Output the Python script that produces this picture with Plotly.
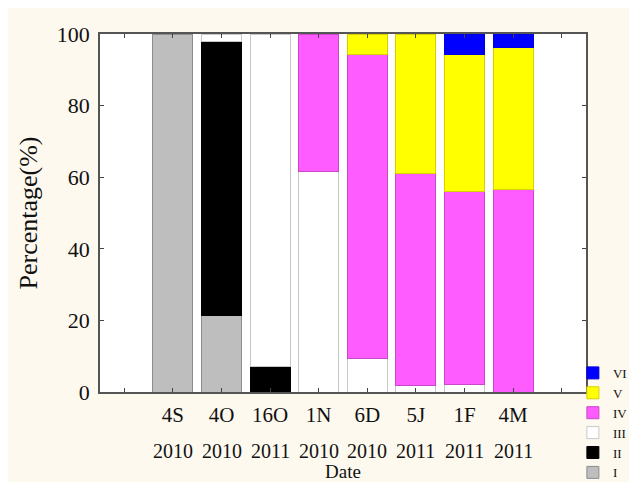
import plotly.graph_objects as go

# sampling dates (day + month initial) and year row
dates = ["4S", "4O", "16O", "1N", "6D", "5J", "1F", "4M"]
years = ["2010", "2010", "2011", "2010", "2010", "2011", "2011", "2011"]

# percentage of each stage per date (bottom to top)
stage_names = ["I", "II", "III", "IV", "V", "VI"]
stage_I = [100, 21.5, 0, 0, 0, 0, 0, 0]
stage_II = [0, 76.5, 7.0, 0, 0, 0, 0, 0]
stage_III = [0, 2.0, 93.0, 61.5, 9.4, 1.8, 2.0, 0]
stage_IV = [0, 0, 0, 38.5, 84.9, 59.2, 53.9, 56.7]
stage_V = [0, 0, 0, 0, 5.7, 39.0, 38.4, 39.4]
stage_VI = [0, 0, 0, 0, 0, 0, 5.7, 3.9]

stage_values = [stage_I, stage_II, stage_III, stage_IV, stage_V, stage_VI]
fill_colors = ["#BEBEBE", "#000000", "#FFFFFF", "#FF5CFF", "#FFFF00", "#0000FF"]
edge_colors = ["#8C8C8C", "#000000", "#C8C8C8", "#C848C8", "#D8D000", "#0000E0"]

FONT = "Liberation Serif, Times New Roman, serif"
BG = "#FDF9EF"

# one empty slot on each side of the eight dates
x_pos = list(range(1, len(dates) + 1))

fig = go.Figure()
for name, vals, fc, ec in zip(stage_names, stage_values, fill_colors, edge_colors):
    fig.add_trace(go.Bar(
        x=x_pos,
        y=[v if v > 0 else None for v in vals],
        name=name,
        marker=dict(color=fc, line=dict(color=ec, width=1)),
        width=0.82,
    ))

# year row under the date labels
for xp, yr in zip(x_pos, years):
    fig.add_annotation(x=xp, y=0, xref="x", yref="paper", text=yr,
                       showarrow=False, yanchor="middle", yshift=-59,
                       font=dict(family=FONT, size=20, color="#111111"))

# axis title sits below the year row
fig.add_annotation(x=0.5, y=0, xref="paper", yref="paper", text="Date",
                   showarrow=False, yanchor="middle", yshift=-79,
                   font=dict(family=FONT, size=19, color="#111111"))

# page body adds an 8px offset, so the figure is 8px smaller
fig.update_layout(
    width=629, height=474,
    barmode="stack",
    paper_bgcolor=BG,
    plot_bgcolor="#FFFFFF",
    margin=dict(l=92, r=51, t=26, b=90, autoexpand=False),
    font=dict(family=FONT, color="#111111"),
    showlegend=True,
    legend=dict(
        traceorder="reversed",
        x=0.973, y=-0.268, xanchor="left", yanchor="bottom",
        font=dict(family=FONT, size=13, color="#111111"),
        bgcolor="rgba(0,0,0,0)",
        tracegroupgap=0, itemwidth=30,
    ),
)

fig.update_xaxes(
    range=[-0.5, len(dates) + 1.5],
    tickvals=list(range(0, len(dates) + 2)),
    ticktext=[""] + dates + [""],
    ticks="inside", ticklen=4, tickcolor="#444444",
    showline=True, linecolor="#555555", linewidth=1.5, mirror="ticks",
    showgrid=False, zeroline=False,
    tickfont=dict(family=FONT, size=21),
    ticklabelstandoff=3,
)

fig.update_yaxes(
    range=[0, 100],
    tickvals=[0, 20, 40, 60, 80, 100],
    ticks="inside", ticklen=4, tickcolor="#444444",
    showline=True, linecolor="#555555", linewidth=1.5, mirror="ticks",
    showgrid=False, zeroline=False,
    tickfont=dict(family=FONT, size=22),
    ticklabelstandoff=4,
    title=dict(text="Percentage(%)", font=dict(family=FONT, size=26), standoff=12),
)

fig.write_html("out.html")
